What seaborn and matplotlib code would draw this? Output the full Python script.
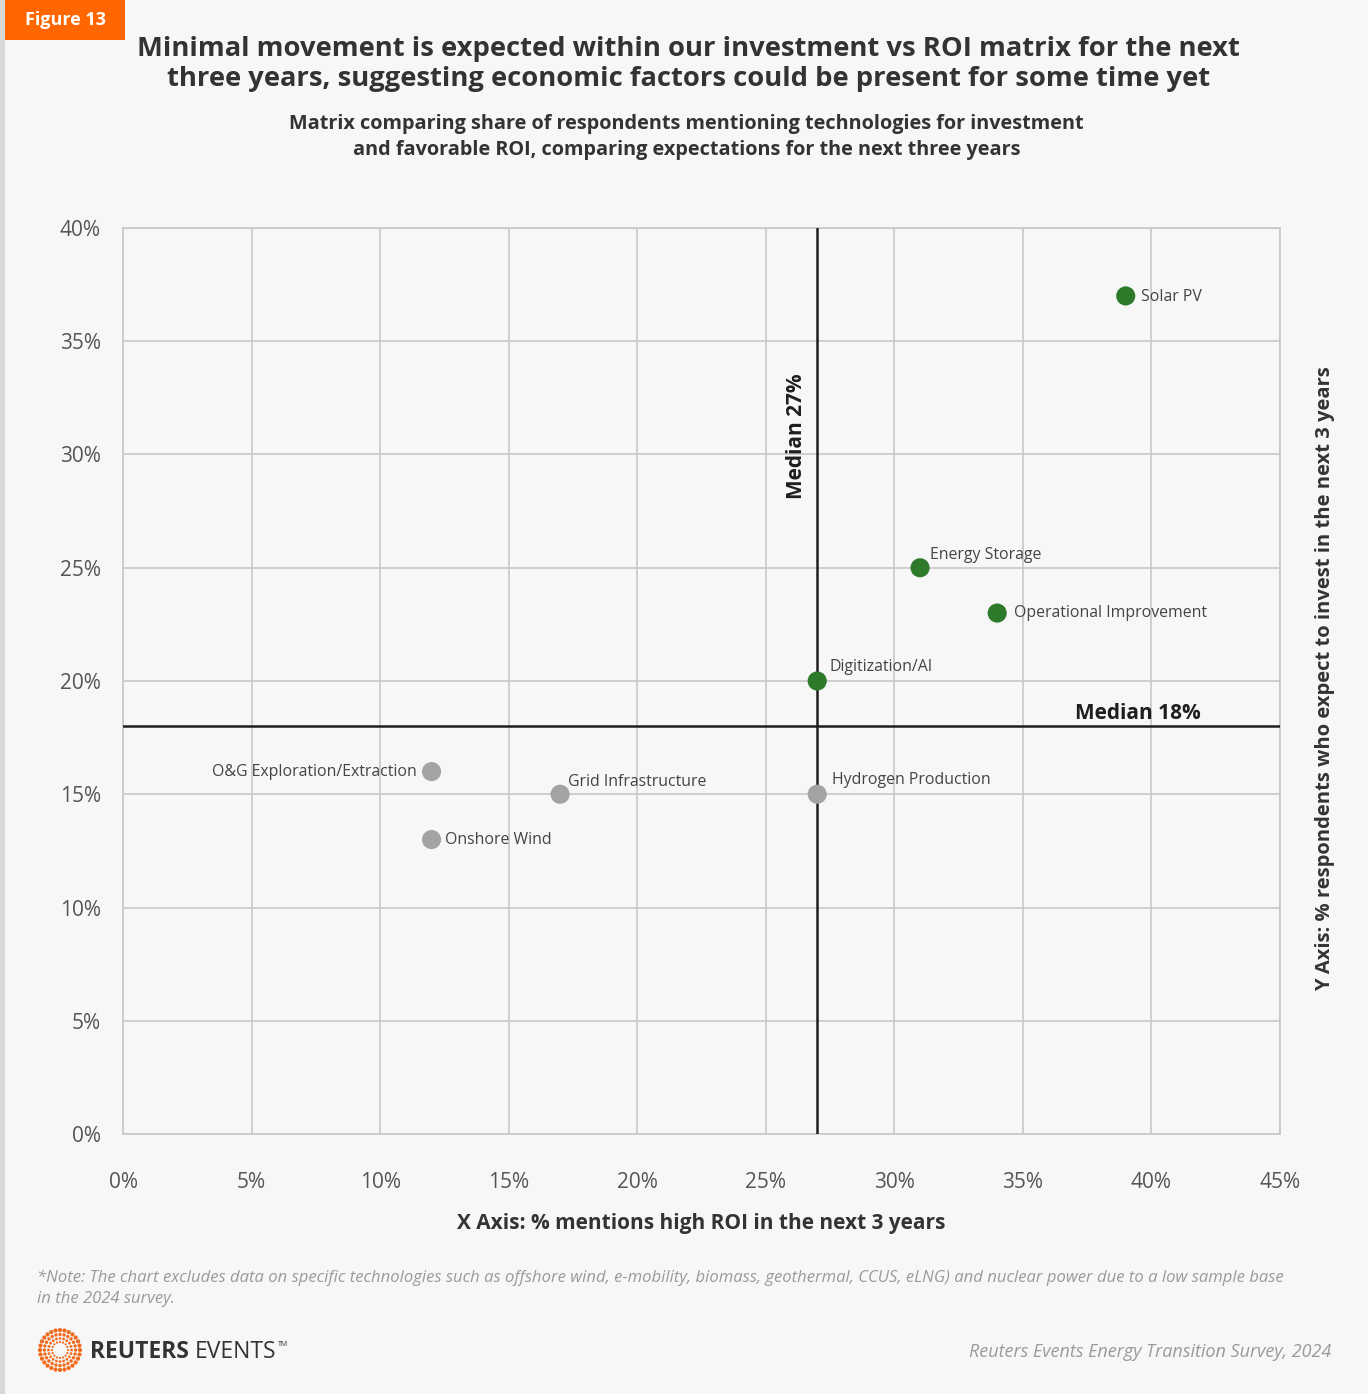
import numpy as np
import pandas as pd
import matplotlib
matplotlib.use("Agg")
import matplotlib.pyplot as plt
from matplotlib.patches import Rectangle
import seaborn as sns

# Survey results: share of respondents (%)
technologies = ["Solar PV", "Energy Storage", "Operational Improvement", "Digitization/AI",
                "O&G Exploration/Extraction", "Grid Infrastructure", "Onshore Wind",
                "Hydrogen Production"]
roi_share = [39, 31, 34, 27, 12, 17, 12, 27]          # X: high ROI mentions
invest_share = [37, 25, 23, 20, 16, 15, 13, 15]       # Y: expect to invest
quadrant = ["Leaders", "Leaders", "Leaders", "Leaders",
            "Others", "Others", "Others", "Others"]
median_roi = 27
median_invest = 18

x_ticks = [0, 5, 10, 15, 20, 25, 30, 35, 40, 45]
y_ticks = [0, 5, 10, 15, 20, 25, 30, 35, 40]

# label offsets in points (dx, dy, ha)
label_pos = {
    "Solar PV": (11, -1, "left"),
    "Energy Storage": (7, 9, "left"),
    "Operational Improvement": (12, 0, "left"),
    "Digitization/AI": (9, 10, "left"),
    "O&G Exploration/Extraction": (-11, 0, "right"),
    "Grid Infrastructure": (6, 9, "left"),
    "Onshore Wind": (10, 0, "left"),
    "Hydrogen Production": (11, 10, "left"),
}

df = pd.DataFrame({"tech": technologies, "roi": roi_share,
                   "invest": invest_share, "group": quadrant})

sns.set_theme(style="white")
plt.rcParams["font.family"] = ["Open Sans", "DejaVu Sans"]

BG = "#f7f7f7"
DARK = "#333333"
fig = plt.figure(figsize=(13.68, 13.94), dpi=100, facecolor=BG)

# left border strip and figure tag
fig.add_artist(Rectangle((0, 0), 0.0035, 1, transform=fig.transFigure,
                         facecolor="#d9d9d9", edgecolor="none"))
fig.add_artist(Rectangle((0.0037, 1 - 40 / 1394), 0.088, 40 / 1394,
                         transform=fig.transFigure, facecolor="#ff6600", edgecolor="none"))
fig.text(0.0037 + 0.044, 1 - 20 / 1394, "Figure 13", color="white", fontsize=13,
         fontweight="bold", ha="center", va="center")

fig.text(0.5035, 1 - 64 / 1394,
         "Minimal movement is expected within our investment vs ROI matrix for the next\n"
         "three years, suggesting economic factors could be present for some time yet",
         ha="center", va="center", fontsize=19.7, fontweight="bold", color=DARK,
         linespacing=1.2)
fig.text(0.502, 1 - 137 / 1394,
         "Matrix comparing share of respondents mentioning technologies for investment\n"
         "and favorable ROI, comparing expectations for the next three years",
         ha="center", va="center", fontsize=14.3, fontweight="bold", color=DARK,
         linespacing=1.35)

ax = fig.add_axes([123 / 1368, 1 - 1134 / 1394, (1280 - 123) / 1368, (1134 - 228) / 1394])
ax.set_facecolor(BG)

sns.scatterplot(data=df, x="roi", y="invest", hue="group",
                palette={"Leaders": "#2e7a2b", "Others": "#a3a3a3"},
                s=190, edgecolor="none", legend=False, zorder=4, ax=ax)

ax.set_xlim(0, 45)
ax.set_ylim(0, 40)
ax.set_xticks(x_ticks)
ax.set_yticks(y_ticks)
ax.set_xticklabels([f"{v}%" for v in x_ticks])
ax.set_yticklabels([f"{v}%" for v in y_ticks])
ax.tick_params(axis="both", labelsize=15, colors="#555555", length=0)
ax.tick_params(axis="x", pad=27)
ax.tick_params(axis="y", pad=16)
ax.grid(True, color="#c8c8c8", linewidth=1.2, zorder=0)
ax.set_axisbelow(True)
for sp in ax.spines.values():
    sp.set_color("#c8c8c8")
    sp.set_linewidth(1.2)

ax.axvline(median_roi, color="#1e1e1e", linewidth=1.8, zorder=3)
ax.axhline(median_invest, color="#1e1e1e", linewidth=1.8, zorder=3)
ax.text(median_roi - 0.8, 30.8, f"Median {median_roi}%", rotation=90, ha="center",
        va="center", fontsize=15, fontweight="bold", color="#1e1e1e")
ax.text(41.9, median_invest + 0.55, f"Median {median_invest}%", ha="right", va="center",
        fontsize=15, fontweight="bold", color="#1e1e1e")

for _, r in df.iterrows():
    dx, dy, ha = label_pos[r["tech"]]
    ax.annotate(r["tech"], (r["roi"], r["invest"]), xytext=(dx, dy),
                textcoords="offset points", ha=ha, va="center", fontsize=11.4,
                color="#444444", zorder=5)

ax.set_xlabel("X Axis: % mentions high ROI in the next 3 years", fontsize=15,
              fontweight="bold", color=DARK, labelpad=15)
ax.set_ylabel("")
fig.text(1325 / 1368, 1 - 679 / 1394,
         "Y Axis: % respondents who expect to invest in the next 3 years",
         rotation=90, ha="center", va="center", fontsize=14.5, fontweight="bold", color=DARK)

fig.text(37 / 1368, 1 - 1288 / 1394,
         "*Note: The chart excludes data on specific technologies such as offshore wind, "
         "e-mobility, biomass, geothermal, CCUS, eLNG) and nuclear power due to a low sample base\n"
         "in the 2024 survey.",
         ha="left", va="center", fontsize=12, style="italic", color="#9a9a9a",
         linespacing=1.4)
fig.text(1331 / 1368, 1 - 1352 / 1394, "Reuters Events Energy Transition Survey, 2024",
         ha="right", va="center", fontsize=13, style="italic", color="#9a9a9a")

# brand mark: concentric dotted rings
lax = fig.add_axes([38 / 1368, 1 - 1372 / 1394, 44 / 1368, 44 / 1394])
lax.set_xlim(-1.1, 1.1)
lax.set_ylim(-1.1, 1.1)
lax.set_aspect("equal")
lax.axis("off")
for rad, n, sz in [(1.0, 28, 9), (0.78, 24, 6), (0.58, 20, 4), (0.4, 16, 2.5)]:
    ang = np.linspace(0, 2 * np.pi, n, endpoint=False)
    lax.scatter(rad * np.cos(ang), rad * np.sin(ang), s=sz, color="#f26a1b",
                edgecolor="none")
brand = fig.text(90 / 1368, 1 - 1352 / 1394, "REUTERS", ha="left", va="center",
                 fontsize=16.5, fontweight="bold", color="#333333")
renderer = fig.canvas.get_renderer()
bb = brand.get_window_extent(renderer=renderer)
events = fig.text((bb.x1 + 6) / 1368, 1 - 1352 / 1394, "EVENTS", ha="left", va="center",
                  fontsize=16.5, color="#333333")
bb2 = events.get_window_extent(renderer=renderer)
fig.text((bb2.x1 + 2) / 1368, 1 - 1344 / 1394, "TM", ha="left", va="center",
         fontsize=5, color="#333333")

fig.savefig("out.png", dpi=100, facecolor=BG)
